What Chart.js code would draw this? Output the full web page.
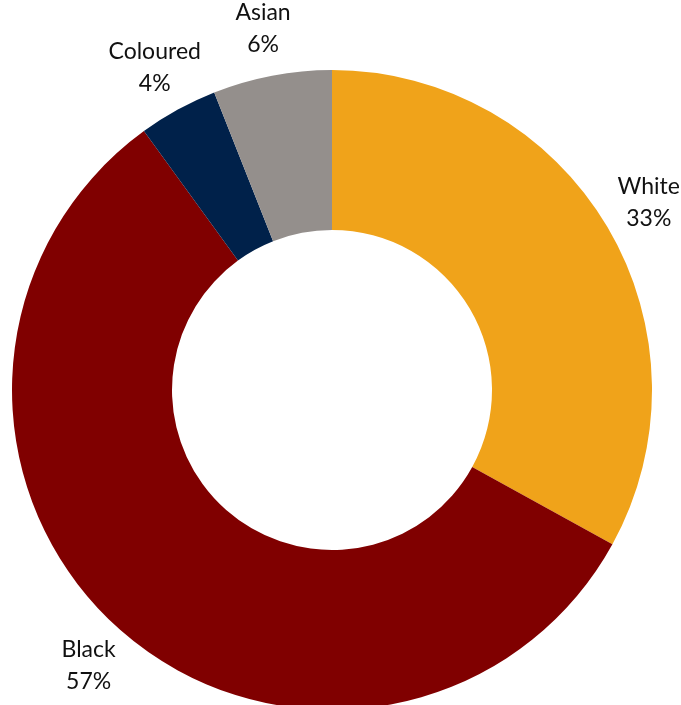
<!DOCTYPE html>
<html>
<head>
<meta charset="utf-8">
<script src="https://cdn.jsdelivr.net/npm/chart.js@4"></script>
<style>
	html, body { margin: 0; padding: 0; background: #fff; overflow: hidden; }
	#wrap { width: 681px; height: 705px; overflow: hidden; }
</style>
</head>
<body>
<div id="wrap"><canvas id="canvas-race" width="681" height="730"></canvas></div>
<script>
// 人口比例
const groups = ["White", "Black", "Coloured", "Asian"];
const shares = [33, 57, 4, 6];
const sliceColors = ["#F0A31A", "#800000", "#00214A", "#948F8C"];

// 圈外標籤
const outerLabel = {
	id: "outerLabel",
	afterDraw(chart) {
		const { ctx } = chart;
		const meta = chart.getDatasetMeta(0);
		ctx.save();
		ctx.font = "23px Lato";
		ctx.fillStyle = "#111";
		ctx.textAlign = "center";
		ctx.textBaseline = "middle";
		meta.data.forEach((arc, i) => {
			const mid = (arc.startAngle + arc.endAngle) / 2;
			const r = arc.outerRadius + 48;
			const x = arc.x + Math.cos(mid) * r;
			const y = arc.y + Math.sin(mid) * r;
			ctx.fillText(chart.data.labels[i], x, y - 16);
			ctx.fillText(chart.data.datasets[0].data[i] + "%", x, y + 16);
		});
		ctx.restore();
	}
};

var ctx = document.getElementById("canvas-race").getContext("2d");
var config = {
	type: "doughnut",
	data: {
		labels: groups,
		datasets: [
			{
				data: shares,
				backgroundColor: sliceColors,
				borderWidth: 0
			}
		]
	},
	options: {
		responsive: false,
		animation: false,
		cutout: "50%",
		layout: { padding: { left: 12, right: 29, top: 70, bottom: 20 } },
		plugins: {
			legend: { display: false },
			tooltip: { enabled: false }
		}
	},
	plugins: [outerLabel]
};

var myDoughnut = new Chart(ctx, config);
</script>
</body>
</html>
